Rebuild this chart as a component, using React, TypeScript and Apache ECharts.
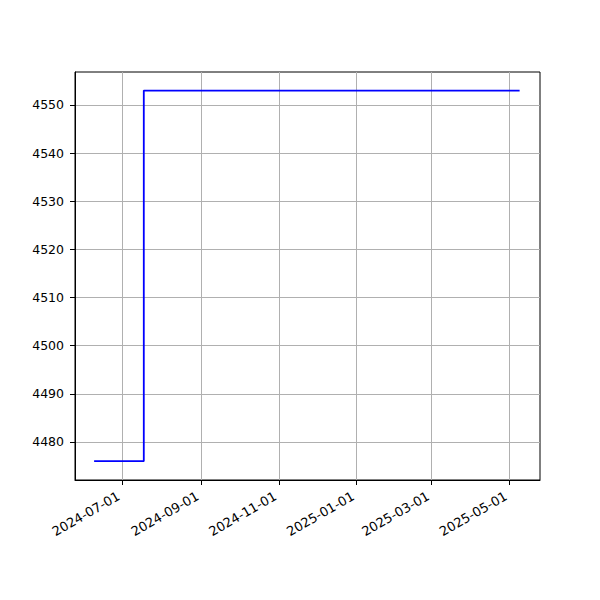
import React, { useEffect, useRef } from "react";
import * as echarts from "echarts";

const dates = ["2024-06-09", "2024-07-18", "2025-05-09"];
const values = [4476, 4553, 4553];
const xTickLabels = ["2024-07-01", "2024-09-01", "2024-11-01", "2025-01-01", "2025-03-01", "2025-05-01"];
const yTickLabels = [4480, 4490, 4500, 4510, 4520, 4530, 4540, 4550];
const xRange = ["2024-05-25", "2025-05-25"];
const yRange = [4472.1, 4556.85];

const ts = (d: string) => Date.parse(d + "T00:00:00Z");
const fmt = (v: number) => {
  const d = new Date(v);
  const p = (n: number) => String(n).padStart(2, "0");
  return `${d.getUTCFullYear()}-${p(d.getUTCMonth() + 1)}-${p(d.getUTCDate())}`;
};

export default function App() {
  const ref = useRef<HTMLDivElement>(null);
  useEffect(() => {
    if (!ref.current) return;
    const chart = echarts.init(ref.current, undefined, { renderer: "svg" });
    const font = "DejaVu Sans";
    chart.setOption({
      animation: false,
      textStyle: { fontFamily: font },
      grid: { left: 75, right: 60, top: 72, bottom: 120, show: true, borderColor: "#000", borderWidth: 1, backgroundColor: "transparent" },
      xAxis: {
        type: "value",
        min: ts(xRange[0]),
        max: ts(xRange[1]),
        axisLine: { show: true, lineStyle: { color: "#000", width: 1 } },
        axisTick: { show: true, length: 5, lineStyle: { color: "#000" }, customValues: xTickLabels.map(ts) },
        axisLabel: {
          customValues: xTickLabels.map(ts),
          rotate: 30,
          margin: 13,
          padding: [0, 4, 0, 0],
          color: "#000",
          fontSize: 13,
          fontFamily: font,
          formatter: (v: number) => fmt(v),
          hideOverlap: false,
        },
        splitLine: { show: true, lineStyle: { color: "#b0b0b0", width: 1 } },
      },
      yAxis: {
        type: "value",
        min: yRange[0],
        max: yRange[1],
        axisLine: { show: true, lineStyle: { color: "#000", width: 1 } },
        axisTick: { show: true, length: 5, lineStyle: { color: "#000" }, customValues: yTickLabels },
        axisLabel: {
          customValues: yTickLabels,
          margin: 11,
          color: "#000",
          fontSize: 12.5,
          fontFamily: font,
          formatter: (v: number) => String(v),
        },
        splitLine: { show: true, lineStyle: { color: "#b0b0b0", width: 1 } },
      },
      series: [
        {
          type: "line",
          step: "end",
          data: dates.map((d, i) => [ts(d), values[i]]),
          showSymbol: false,
          lineStyle: { color: "#0000ff", width: 1.8 },
          itemStyle: { color: "#0000ff" },
        },
      ],
    });
    return () => chart.dispose();
  }, []);
  return <div ref={ref} style={{ width: 600, height: 600, position: "absolute", left: 0, top: 0 }} />;
}
